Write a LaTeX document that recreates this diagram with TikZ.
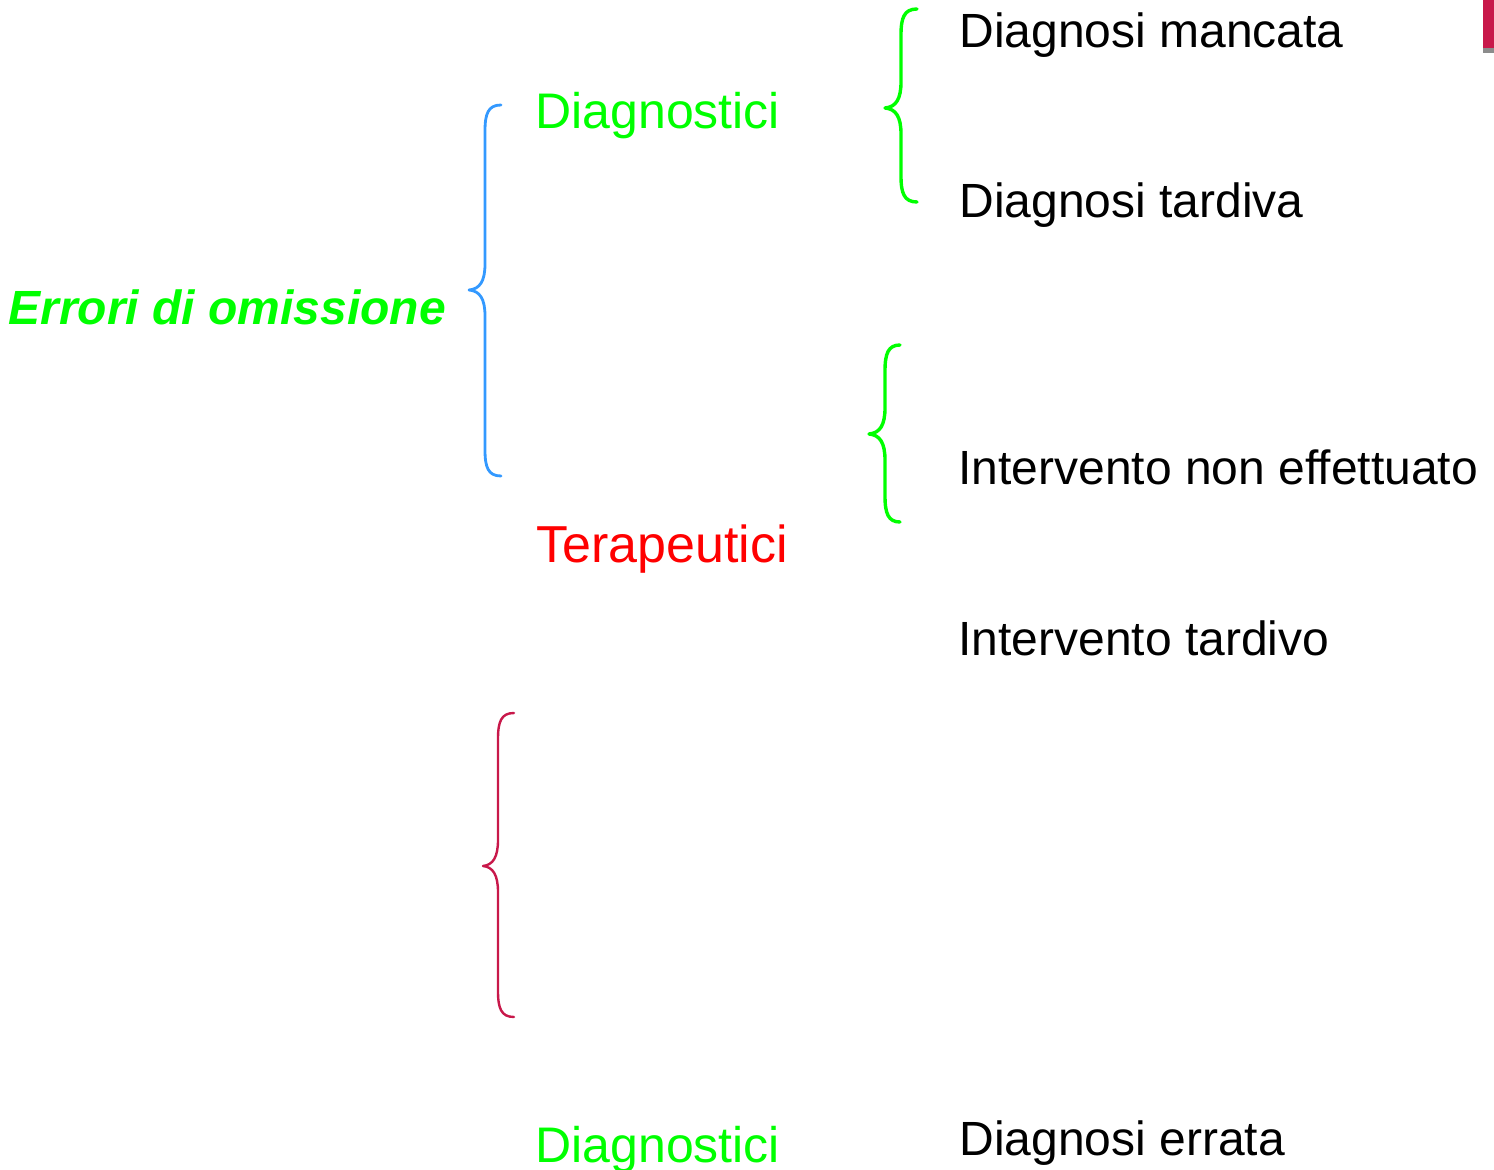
\documentclass[tikz,border=0pt]{standalone}
\usepackage{fontspec}
\setmainfont{Liberation Sans}
\definecolor{brgreen}{HTML}{00FF00}
\definecolor{brblue}{HTML}{3399FF}
\definecolor{crimsonc}{HTML}{C8184A}
\definecolor{barbottom}{HTML}{8C8C8C}
\newcommand\mybrace[7]{% color, xend, xvert, xtip, ytop, ytip, ybot
  \draw[#1] (#2,#5) .. controls ({#3+3},#5) and (#3,{#5+9}) .. (#3,{#5+26})
    -- (#3,{#6-26}) .. controls (#3,{#6-9}) and ({#3-5},{#6-1}) .. (#4,#6)
    .. controls ({#3-5},{#6+1}) and (#3,{#6+9}) .. (#3,{#6+26})
    -- (#3,{#7-26}) .. controls (#3,{#7-9}) and ({#3+3},#7) .. (#2,#7);}
\begin{document}
\begin{tikzpicture}[x=0.5pt,y=-0.5pt,
  lbl/.style={anchor=base west,inner sep=0pt,font=\fontsize{24}{28}\selectfont,text=black},
  cat/.style={anchor=base west,inner sep=0pt,font=\fontsize{25}{30}\selectfont},
  brc/.style={line width=1.5pt,line cap=round,line join=round}]
\useasboundingbox[fill=white] (0,0) rectangle (1494,1170);
% top-right bar
\fill[crimsonc] (1483,0) rectangle (1494,48);
\fill[barbottom] (1483,48) rectangle (1494,53);
% texts
\node[anchor=base west,inner sep=0pt,font=\fontsize{24}{28}\selectfont\bfseries\itshape,text=brgreen] (root) at (8,325) {Errori di omissione};
\node[cat,text=brgreen] (diag1) at (535,129) {Diagnostici};
\node[cat,text=red,font=\fontsize{26}{30}\selectfont] (ter) at (536,563) {Terapeutici};
\node[cat,text=brgreen] (diag2) at (535,1162) {Diagnostici};
\node[lbl] (dm) at (959,48) {Diagnosi mancata};
\node[lbl] (dt) at (959,218) {Diagnosi tardiva};
\node[lbl] (inf) at (958,485) {Intervento non effettuato};
\node[lbl] (itd) at (958,655) {Intervento tardivo};
\node[lbl] (de) at (959,1155) {Diagnosi errata};
% braces
\mybrace{brc,brblue,line width=1.4pt}{501}{485}{469}{105}{290}{476}
\mybrace{brc,brgreen,line width=1.7pt}{917}{901}{885}{9}{108}{202}
\mybrace{brc,brgreen,line width=1.7pt}{900}{885}{869}{345}{434}{522}
\mybrace{brc,crimsonc,line width=1.2pt}{514}{498}{483}{713}{866}{1017}
\end{tikzpicture}
\end{document}
